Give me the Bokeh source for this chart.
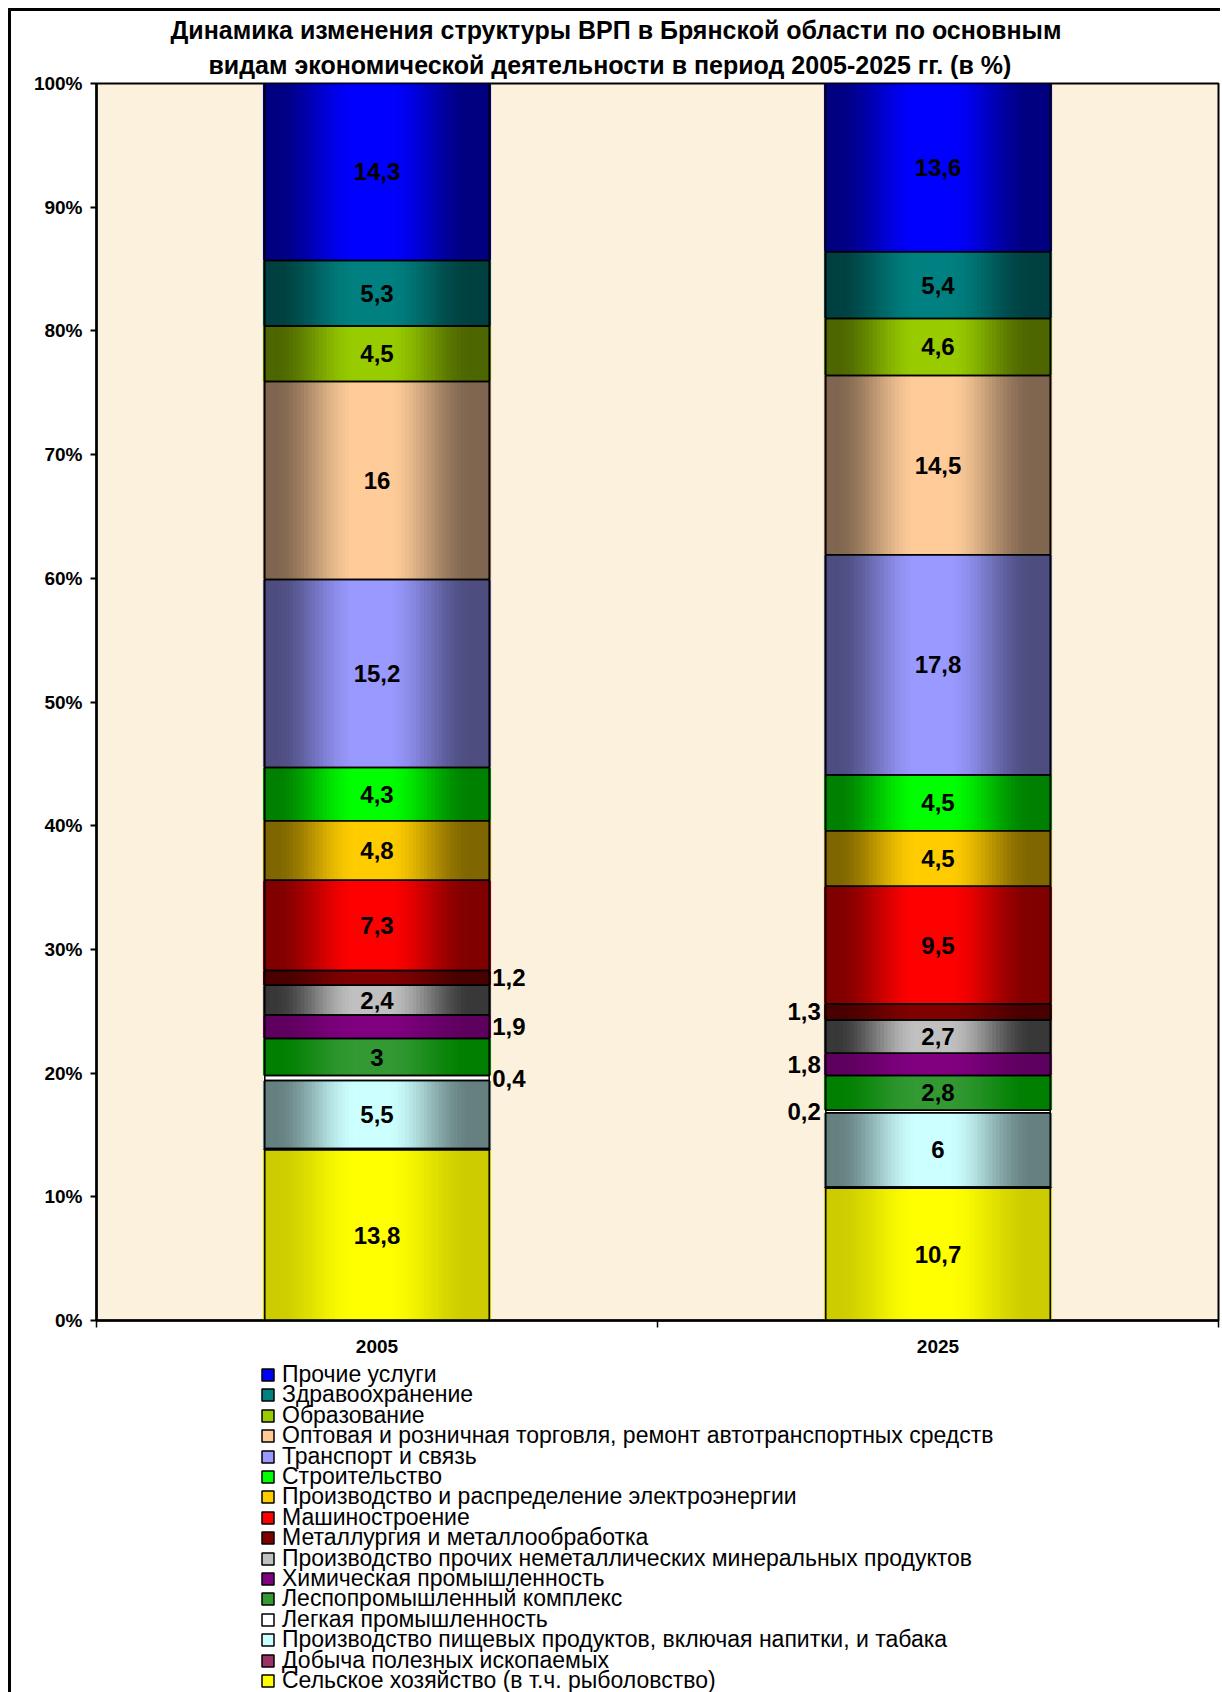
from bokeh.plotting import figure
from bokeh.layouts import column
from bokeh.models import (ColumnDataSource, Range1d, FixedTicker, PrintfTickFormatter,
                          Legend, LegendItem, Title)
from bokeh.core.properties import value
from bokeh.embed import file_html
from bokeh.resources import INLINE

# ---------------- data ----------------
categories = ["2005", "2025"]

# stacking order: bottom -> top
sectors = [
    "Сельское хозяйство (в т.ч. рыболовство)",
    "Добыча полезных ископаемых",
    "Производство пищевых продуктов, включая напитки, и табака",
    "Легкая промышленность",
    "Леспопромышленный комплекс",
    "Химическая промышленность",
    "Производство прочих неметаллических минеральных продуктов",
    "Металлургия и металлообработка",
    "Машиностроение",
    "Производство и распределение электроэнергии",
    "Строительство",
    "Транспорт и связь",
    "Оптовая и розничная торговля, ремонт автотранспортных средств",
    "Образование",
    "Здравоохранение",
    "Прочие услуги",
]
values_2005 = [13.8, 0.1, 5.5, 0.4, 3.0, 1.9, 2.4, 1.2, 7.3, 4.8, 4.3, 15.2, 16.0, 4.5, 5.3, 14.3]
values_2025 = [10.7, 0.1, 6.0, 0.2, 2.8, 1.8, 2.7, 1.3, 9.5, 4.5, 4.5, 17.8, 14.5, 4.6, 5.4, 13.6]

center_colors = ["#FFFF00", "#993366", "#CCFFFF", "#FFFFFF", "#339933", "#800080",
                 "#C0C0C0", "#800000", "#FF0000", "#FFCC00", "#00FF00", "#9999FF",
                 "#FFCC99", "#99CC00", "#008080", "#0000FF"]
edge_colors = ["#CCCC00", "#4D1A33", "#668080", "#FFFFFF", "#007F00", "#5E005E",
               "#383838", "#480000", "#800000", "#806600", "#008000", "#4D4D80",
               "#806650", "#4D6600", "#004040", "#000080"]

title_lines = ["Динамика изменения структуры ВРП в Брянской области по основным",
               "видам экономической деятельности в период 2005-2025 гг. (в %)"]
y_ticks = [0, 10, 20, 30, 40, 50, 60, 70, 80, 90, 100]

FONT = "Liberation Sans"
series_values = [values_2005, values_2025]

# ---------------- main chart ----------------
W, H1, H2 = 1209, 1350, 331
p = figure(width=W, height=H1, title=None,
           x_range=Range1d(0, 2), y_range=Range1d(0, 100),
           output_backend="svg", toolbar_location=None,
           min_border_left=85, min_border_right=2, min_border_top=72, min_border_bottom=41,
           background_fill_color="#FCF1DC", border_fill_color="white",
           outline_line_color="black", outline_line_width=2)
p.xgrid.visible = False
p.ygrid.visible = False

BAR_W = 0.4
centers = [i + 0.5 for i in range(len(categories))]


def rgb(h):
    return tuple(int(h[k:k + 2], 16) for k in (1, 3, 5))


def profile(t):
    if t < 0.05:
        g = 0.0
    elif t < 0.42:
        g = (t - 0.05) / 0.37
    elif t < 0.55:
        g = 1.0
    elif t < 0.93:
        g = (0.93 - t) / 0.38
    else:
        g = 0.0
    return g * g * (3 - 2 * g)


bottoms = [[0.0] * len(sectors) for _ in categories]
for j, vals in enumerate(series_values):
    acc = 0.0
    for i, v in enumerate(vals):
        bottoms[j][i] = acc
        acc += v

# base bars (flat colour)
for i, name in enumerate(sectors):
    src = ColumnDataSource(dict(
        x=centers,
        bottom=[bottoms[j][i] for j in range(len(categories))],
        top=[bottoms[j][i] + series_values[j][i] for j in range(len(categories))]))
    p.vbar(x="x", bottom="bottom", top="top", width=BAR_W, source=src,
           fill_color=center_colors[i], line_color="black", line_width=1.5)

# gradient strips
K = 60
sw = BAR_W / K
sx, sb, st, sc = [], [], [], []
for j in range(len(categories)):
    for i in range(len(sectors)):
        c0 = rgb(center_colors[i])
        c1 = rgb(edge_colors[i])
        for k in range(K):
            t = (k + 0.5) / K
            g = profile(t)
            col = tuple(int(round(c1[m] + (c0[m] - c1[m]) * g)) for m in range(3))
            sx.append(centers[j] - BAR_W / 2 + (k + 0.5) * sw)
            sb.append(bottoms[j][i])
            st.append(bottoms[j][i] + series_values[j][i])
            sc.append("#%02x%02x%02x" % col)
p.vbar(x="x", bottom="bottom", top="top", width=sw * 2.0,
       source=ColumnDataSource(dict(x=sx, bottom=sb, top=st, color=sc)),
       fill_color="color", line_color=None)

# outlines on top
ox, ob, ot = [], [], []
for j in range(len(categories)):
    for i in range(len(sectors)):
        ox.append(centers[j])
        ob.append(bottoms[j][i])
        ot.append(bottoms[j][i] + series_values[j][i])
p.vbar(x="x", bottom="bottom", top="top", width=BAR_W,
       source=ColumnDataSource(dict(x=ox, bottom=ob, top=ot)),
       fill_color=None, line_color="black", line_width=1.5)


# data labels
def fmt(v):
    return ("%g" % v).replace(".", ",")


lab_c = dict(x=[], y=[], text=[])
lab_r = dict(x=[], y=[], text=[])
lab_l = dict(x=[], y=[], text=[])
for j in range(len(categories)):
    for i in range(len(sectors)):
        v = series_values[j][i]
        if sectors[i].startswith("Добыча"):
            continue
        mid = bottoms[j][i] + v / 2
        if v >= 2:
            d = lab_c; xx = centers[j]
        elif j == 0:
            d = lab_r; xx = centers[j] + BAR_W / 2
        else:
            d = lab_l; xx = centers[j] - BAR_W / 2
        d["x"].append(xx); d["y"].append(mid); d["text"].append(fmt(v))

common = dict(text_font=value(FONT), text_font_style="bold", text_font_size="24px",
              text_baseline="middle", text_color="black")
p.text(x="x", y="y", text="text", source=ColumnDataSource(lab_c), text_align="center", **common)
p.text(x="x", y="y", text="text", source=ColumnDataSource(lab_r), text_align="left", x_offset=3, **common)
p.text(x="x", y="y", text="text", source=ColumnDataSource(lab_l), text_align="right", x_offset=-5, **common)

# axes
p.yaxis.ticker = FixedTicker(ticks=y_ticks, minor_ticks=[])
p.yaxis.formatter = PrintfTickFormatter(format="%d%%")
p.yaxis.major_label_text_font = FONT
p.yaxis.major_label_text_font_style = "bold"
p.yaxis.major_label_text_font_size = "19px"
p.yaxis.major_label_text_color = "black"
p.yaxis.axis_line_width = 2.5
p.yaxis.major_tick_line_width = 2
p.yaxis.major_tick_out = 6
p.yaxis.major_tick_in = 0
p.yaxis.major_label_standoff = 8

p.xaxis.ticker = FixedTicker(ticks=centers, minor_ticks=[0, 1, 2])
p.xaxis.major_label_overrides = {centers[j]: categories[j] for j in range(len(categories))}
p.xaxis.major_label_text_font = FONT
p.xaxis.major_label_text_font_style = "bold"
p.xaxis.major_label_text_font_size = "19px"
p.xaxis.major_label_text_color = "black"
p.xaxis.axis_line_width = 2.5
p.xaxis.major_tick_line_color = None
p.xaxis.major_tick_out = 7
p.xaxis.minor_tick_out = 7
p.xaxis.minor_tick_in = 0
p.xaxis.minor_tick_line_width = 1.5
p.xaxis.major_label_standoff = 12

# titles (second line added first: closest to the frame); left aligned with offsets
p.add_layout(Title(text=title_lines[1], align="left", offset=112, text_font=FONT,
                   text_font_style="bold", text_font_size="25px", text_color="black",
                   standoff=10), "above")
p.add_layout(Title(text=title_lines[0], align="left", offset=74, text_font=FONT,
                   text_font_style="bold", text_font_size="25px", text_color="black",
                   standoff=0), "above")

# ---------------- legend panel ----------------
p2 = figure(width=W, height=H2, title=None, x_range=Range1d(0, 1), y_range=Range1d(0, 1),
            output_backend="svg", toolbar_location=None,
            min_border_left=0, min_border_right=0, min_border_top=0, min_border_bottom=0,
            outline_line_color=None, background_fill_color="white", border_fill_color="white")
p2.xaxis.visible = False
p2.yaxis.visible = False
p2.xgrid.visible = False
p2.ygrid.visible = False

LEG_FONT_PX = 23
order = list(reversed(range(len(sectors))))  # top legend row = top stacked series
for row, i in enumerate(order):
    # hidden proxy glyph: only styles the legend swatch
    r = p2.vbar(x="x", top="top", bottom="bottom", width=0.1,
                source=ColumnDataSource(dict(x=[0.5], top=[0.5], bottom=[0.4])),
                fill_color=center_colors[i], line_color="black", line_width=1.5)
    r.visible = False
    cy = 14 + 20.4 * row
    lg = Legend(items=[LegendItem(label=sectors[i], renderers=[r])],
                location=(164, H2 - cy - 13), orientation="vertical",
                glyph_width=15, glyph_height=15, label_height=20, spacing=0,
                padding=0, margin=0, border_line_color=None, background_fill_alpha=0,
                inactive_fill_alpha=0,
                label_text_font=FONT, label_text_font_size="%dpx" % LEG_FONT_PX,
                label_standoff=7, label_text_color="black")
    p2.add_layout(lg)

layout = column(p, p2, spacing=0)
layout.styles = {"margin-left": "8px", "margin-top": "8px",
                 "border-left": "3px solid black", "border-top": "3px solid black"}

open("out.html", "w").write(file_html(layout, INLINE))
